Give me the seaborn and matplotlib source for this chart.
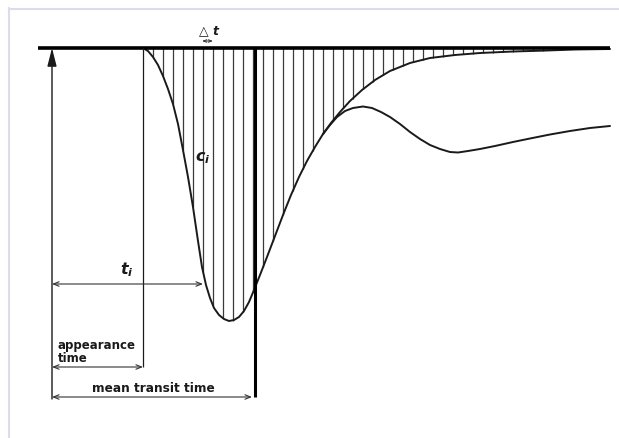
import matplotlib.pyplot as plt
import seaborn as sns

# time in sampling intervals (delta t), concentration in arbitrary units (plotted downward)
curve_t = [9.1, 9.6, 10.1, 10.6, 11.1, 11.6, 12.1, 12.6, 13.1, 13.6, 14.1, 14.6,
           15.0, 15.4, 15.8, 16.2, 16.7, 17.2, 17.7, 18.2, 18.7, 19.2, 19.7, 20.2,
           20.8, 21.5, 22.3, 23.1, 23.9, 24.7, 25.5, 26.3, 27.1, 27.9, 28.8, 29.8,
           31.0, 32.3, 33.8, 35.8, 37.8, 40.3, 42.8, 46.1, 49.5, 52.3, 55.8]
curve_c = [0.0, 0.3, 0.9, 1.7, 2.8, 4.1, 5.6, 7.6, 10.2, 12.9, 15.9, 19.3,
           21.9, 23.7, 25.0, 26.0, 26.7, 27.1, 27.3, 27.2, 26.9, 26.3, 25.4, 24.2,
           22.7, 20.9, 18.8, 16.7, 14.7, 12.9, 11.3, 9.9, 8.6, 7.5, 6.4, 5.3,
           4.2, 3.2, 2.3, 1.5, 1.0, 0.7, 0.5, 0.35, 0.25, 0.15, 0.1]

# recorded curve after the recirculation branches off the extrapolated downslope
recirc_t = [27.1, 27.8, 28.5, 29.3, 30.1, 31.1, 32.0, 32.9, 33.8, 34.8, 35.8, 36.8,
            37.8, 38.8, 39.8, 40.6, 41.6, 42.8, 44.3, 46.1, 47.8, 49.8, 51.8, 53.8, 55.8]
recirc_c = [8.6, 7.7, 6.9, 6.3, 6.0, 5.85, 6.0, 6.4, 6.9, 7.6, 8.4, 9.1,
            9.7, 10.1, 10.4, 10.45, 10.3, 10.1, 9.8, 9.4, 9.05, 8.65, 8.3, 8.0, 7.8]

# sampling instants t_i (one per delta t) and concentrations c_i read at them
sample_t = [10.1, 11.1, 12.1, 13.1, 14.1, 15.1, 16.1, 17.1, 18.1, 19.1, 20.1, 21.1,
            22.1, 23.1, 24.1, 25.1, 26.1, 27.1, 28.1, 29.1, 30.1, 31.1, 32.1, 33.1,
            34.1, 35.1, 36.1, 37.1, 38.1, 39.1, 40.1, 41.1, 42.1, 43.1, 44.1, 45.1,
            46.1, 47.1, 48.1, 49.1, 50.1, 51.1]
sample_c = [0.9, 2.8, 5.6, 10.2, 15.9, 22.4, 25.75, 27.0, 27.25, 26.4, 24.4, 21.9,
            19.3, 16.7, 14.25, 12.1, 10.25, 8.6, 7.25, 6.0, 5.05, 4.1, 3.35, 2.7,
            2.2, 1.75, 1.4, 1.15, 0.95, 0.85, 0.7, 0.62, 0.55, 0.5, 0.45, 0.4,
            0.35, 0.32, 0.3, 0.26, 0.23, 0.2]

injection_time = 0.0
appearance_time = 9.1
mean_transit_time = 20.3
ti_example = 15.1
delta_t = 1.0

sns.set_theme(style="white")
plt.rcParams["font.family"] = ["DejaVu Sans"]

fig = plt.figure(figsize=(6.19, 4.39), dpi=100)
ax = fig.add_axes([0, 0, 1, 1])
ax.set_xlim(-5.2, 56.7)
ax.set_ylim(39.0, -4.9)
ax.axis("off")

# light frame of the original figure
ax.axvline(-4.3, ymin=0, ymax=1 - 9 / 439, color="#dcdcec", lw=1.5)
ax.axhline(-3.95, xmin=9 / 619, xmax=1, color="#dcdcec", lw=1.5)

ink = "#1a1a1a"

# hatching: one vertical line per sampling interval
ax.vlines(sample_t, 0, sample_c, color="#3a3a3a", lw=0.9)

sns.lineplot(x=curve_t, y=curve_c, ax=ax, color=ink, lw=1.4, sort=False)
sns.lineplot(x=recirc_t, y=recirc_c, ax=ax, color=ink, lw=1.4, sort=False)

# baseline
ax.hlines(0, -1.4, 55.8, color="black", lw=2.6)

# injection arrow and reference lines
ax.annotate("", xy=(injection_time, 0), xytext=(injection_time, 35.1),
            arrowprops=dict(arrowstyle="-|>,head_length=1.1,head_width=0.28",
                            mutation_scale=10, color=ink, lw=1.0,
                            shrinkA=0, shrinkB=0))
ax.vlines(appearance_time, 0, 31.9, color=ink, lw=0.9)
ax.vlines(mean_transit_time, 0, 34.9, color="black", lw=2.2)

dbl = dict(arrowstyle="<->,head_length=0.5,head_width=0.2", mutation_scale=8,
           color="#333333", lw=0.8, shrinkA=0, shrinkB=0)
ax.annotate("", xy=(injection_time, 23.6), xytext=(ti_example, 23.6), arrowprops=dbl)
ax.annotate("", xy=(injection_time, 31.9), xytext=(appearance_time, 31.9), arrowprops=dbl)
ax.annotate("", xy=(injection_time, 34.9), xytext=(mean_transit_time - 0.3, 34.9), arrowprops=dbl)
ax.annotate("", xy=(ti_example - 0.1, -0.7), xytext=(ti_example + delta_t, -0.7),
            arrowprops=dict(arrowstyle="<->,head_length=0.4,head_width=0.15",
                            mutation_scale=6, color="#333333", lw=0.7,
                            shrinkA=0, shrinkB=0))

# labels
ax.text(ti_example + 0.5 * delta_t, -1.7, r"$\triangle\,\mathbfit{t}$", ha="center",
        va="center", fontsize=9, color=ink)
ax.text(7.5, 22.1, r"$\mathbfit{t}_{\mathbfit{i}}$", ha="center", va="center",
        fontsize=11.5, color=ink)
ax.text(15.1, 10.9, r"$\mathbfit{c}_{\mathbfit{i}}$", ha="center", va="center",
        fontsize=11.5, color=ink)
ax.text(0.6, 29.0, "appearance\ntime", ha="left", va="top", fontsize=8.5,
        fontweight="bold", color=ink, linespacing=1.0)
ax.text(10.1, 34.0, "mean transit time", ha="center", va="center", fontsize=8.7,
        fontweight="bold", color=ink)

fig.savefig("out.png", dpi=100)
